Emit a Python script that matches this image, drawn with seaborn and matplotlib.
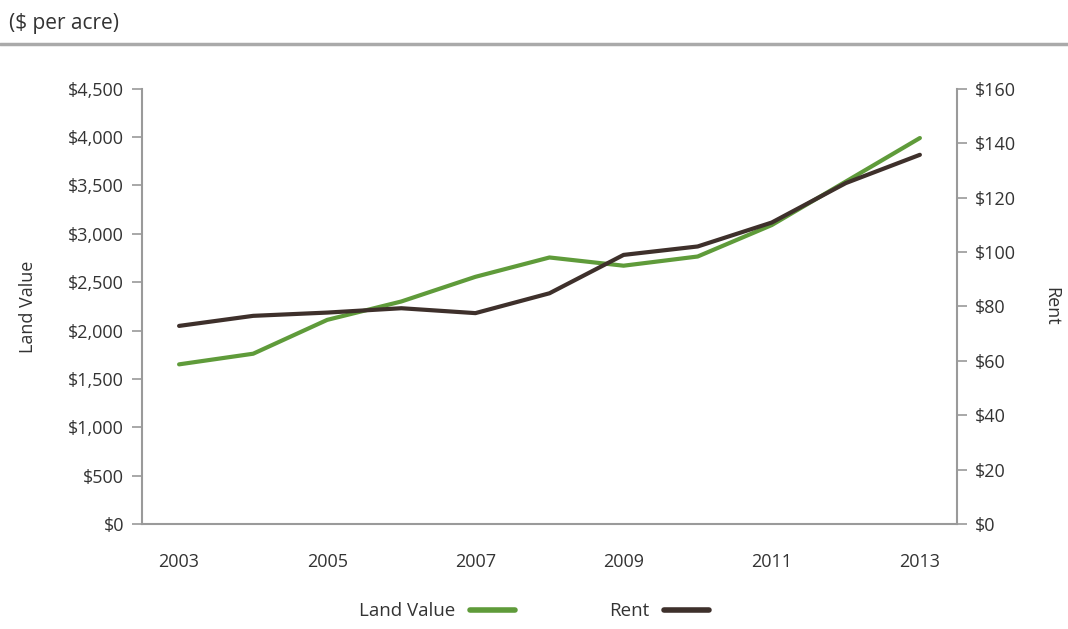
import pandas as pd
import seaborn as sns
import matplotlib.pyplot as plt
from matplotlib.ticker import FuncFormatter
from matplotlib.lines import Line2D

years = [2003, 2004, 2005, 2006, 2007, 2008, 2009, 2010, 2011, 2012, 2013]
land_value = [1650, 1760, 2110, 2300, 2555, 2755, 2670, 2765, 3090, 3540, 3990]
rent = [72.8, 76.5, 77.7, 79.3, 77.5, 84.8, 98.9, 102, 110.8, 125.3, 135.7]
xtick_years = [2003, 2005, 2007, 2009, 2011, 2013]

green = "#5f9b3a"
brown = "#3e302b"
axis_gray = "#9a9a9a"
text_col = "#333333"

df = pd.DataFrame({"year": years, "land": land_value, "rent": rent})

sns.set_style("white")
plt.rcParams["font.family"] = ["Open Sans", "DejaVu Sans"]

fig = plt.figure(figsize=(10.68, 6.29), dpi=100)
ax = fig.add_axes([0.133, 0.167, 0.763, 0.692])
ax2 = ax.twinx()

sns.lineplot(data=df, x="year", y="land", ax=ax, color=green, linewidth=3)
sns.lineplot(data=df, x="year", y="rent", ax=ax2, color=brown, linewidth=3)

ax.set_xlim(2002.5, 2013.5)
ax.set_ylim(0, 4500)
ax2.set_ylim(0, 160)
ax.set_xticks(years)
ax.set_xticklabels([str(y) if y in xtick_years else "" for y in years])
ax.set_yticks(range(0, 4501, 500))
ax2.set_yticks(range(0, 161, 20))
ax.yaxis.set_major_formatter(FuncFormatter(lambda v, p: "${:,.0f}".format(v)))
ax2.yaxis.set_major_formatter(FuncFormatter(lambda v, p: "${:,.0f}".format(v)))

for a in (ax, ax2):
    for s in a.spines.values():
        s.set_visible(False)
    a.tick_params(colors=axis_gray, labelcolor=text_col, labelsize=13, length=7, width=1.2)
ax.spines["left"].set_visible(True)
ax.spines["bottom"].set_visible(True)
ax2.spines["right"].set_visible(True)
for s in [ax.spines["left"], ax.spines["bottom"], ax2.spines["right"]]:
    s.set_color(axis_gray)
    s.set_linewidth(1.5)
ax.tick_params(axis="x", pad=14)
ax.tick_params(axis="y", pad=6)
ax2.tick_params(axis="y", pad=6)

ax.set_xlabel("")
ax.set_ylabel("Land Value", fontsize=13, color=text_col, labelpad=22)
ax2.set_ylabel("Rent", fontsize=13, color=text_col, rotation=270, labelpad=32)

fig.text(0.008, 0.962, "($ per acre)", fontsize=15, color=text_col, va="center", ha="left")
fig.add_artist(Line2D([0.0, 1.0], [0.93, 0.93], transform=fig.transFigure, color="#aaaaaa", linewidth=2.5))

handles = [Line2D([], [], color=green, linewidth=4), Line2D([], [], color=brown, linewidth=4)]
fig.legend(handles, ["Land Value", "Rent"], loc="center", bbox_to_anchor=(0.50, 0.028), ncol=2,
           frameon=False, markerfirst=False, fontsize=13.5, handlelength=2.4, columnspacing=5,
           labelcolor=text_col)

fig.savefig("out.png", dpi=100, facecolor="white")
